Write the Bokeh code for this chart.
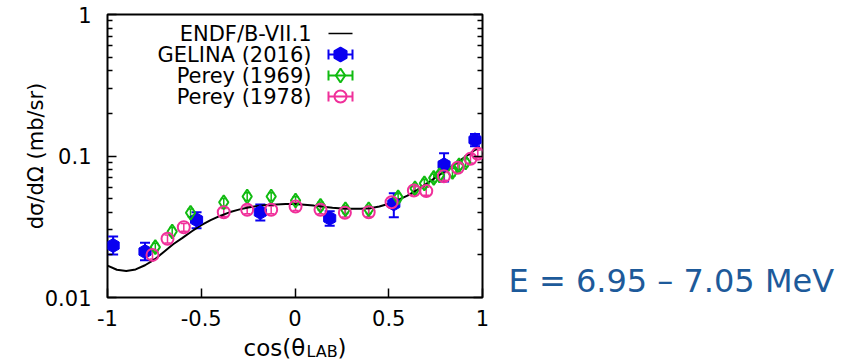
import math
from bokeh.plotting import figure
from bokeh.layouts import row, column
from bokeh.models import (FixedTicker, CustomJSTickFormatter, LogAxis, Whisker,
                          TeeHead, ColumnDataSource, Range1d)
from bokeh.core.properties import value
from bokeh.embed import file_html
from bokeh.resources import INLINE

# ENDF/B-VII.1 evaluated angular distribution
endf_cos = [-1.0, -0.95, -0.9, -0.85, -0.8, -0.75, -0.7, -0.65, -0.6, -0.55, -0.5,
            -0.45, -0.4, -0.35, -0.3, -0.25, -0.2, -0.15, -0.1, -0.05, 0.0, 0.05,
            0.1, 0.15, 0.2, 0.25, 0.3, 0.35, 0.4, 0.45, 0.5, 0.55, 0.6, 0.65, 0.7,
            0.75, 0.8, 0.85, 0.9, 0.95, 0.97]
endf_xs = [0.0168, 0.0157, 0.0154, 0.0158, 0.0169, 0.0185, 0.0210, 0.0238, 0.0264,
           0.0294, 0.0325, 0.0352, 0.0377, 0.0400, 0.0418, 0.0433, 0.0444, 0.0451,
           0.0455, 0.0457, 0.0457, 0.0453, 0.0446, 0.0438, 0.0430, 0.0425, 0.0423,
           0.0424, 0.0428, 0.0440, 0.0460, 0.0490, 0.0525, 0.0575, 0.0635, 0.0705,
           0.0780, 0.0870, 0.0970, 0.1080, 0.1130]

# GELINA (2016)
gelina_cos = [-0.97, -0.80, -0.525, -0.185, 0.185, 0.527, 0.795, 0.96]
gelina_xs = [0.0233, 0.0211, 0.0354, 0.0400, 0.0363, 0.0459, 0.0866, 0.130]
gelina_lo = [0.0201, 0.0183, 0.0309, 0.0350, 0.0322, 0.0369, 0.0660, 0.117]
gelina_hi = [0.0270, 0.0244, 0.0400, 0.0454, 0.0407, 0.0546, 0.1046, 0.143]

# Perey (1969)
perey69_cos = [-0.745, -0.655, -0.557, -0.38, -0.255, -0.127, 0.003, 0.136, 0.269,
               0.393, 0.55, 0.64, 0.69, 0.74, 0.77, 0.84, 0.875, 0.91]
perey69_xs = [0.0227, 0.0293, 0.0397, 0.0471, 0.0517, 0.0517, 0.0485, 0.0445, 0.0420,
              0.0420, 0.0510, 0.0590, 0.0640, 0.0700, 0.0730, 0.0770, 0.0860, 0.0900]
perey69_err = [0.0015, 0.0020, 0.0025, 0.0030, 0.0033, 0.0033, 0.0031, 0.0029, 0.0027,
               0.0027, 0.0033, 0.0038, 0.0041, 0.0045, 0.0047, 0.0050, 0.0055, 0.0058]

# Perey (1978)
perey78_cos = [-0.76, -0.68, -0.593, -0.38, -0.255, -0.127, 0.003, 0.136, 0.266,
               0.393, 0.515, 0.634, 0.70, 0.794, 0.868, 0.936, 0.975]
perey78_xs = [0.0200, 0.0260, 0.0314, 0.0400, 0.0417, 0.0417, 0.0440, 0.0417, 0.0397,
              0.0400, 0.0471, 0.0570, 0.0565, 0.0720, 0.0826, 0.0955, 0.1037]
perey78_err = [0.0013, 0.0017, 0.0020, 0.0026, 0.0027, 0.0027, 0.0028, 0.0027, 0.0026,
               0.0026, 0.0030, 0.0037, 0.0036, 0.0046, 0.0053, 0.0061, 0.0066]

x_ticks = [-1, -0.5, 0, 0.5, 1]
y_ticks = [0.01, 0.1, 1]
y_minor = [m * d for d in (0.01, 0.1) for m in range(2, 10)]

series_names = ["ENDF/B-VII.1", "GELINA (2016)", "Perey (1969)", "Perey (1978)"]
y_title = "dσ/dΩ (mb/sr)"
x_title_parts = ["cos(θ", "LAB", ")"]
energy_text = "E = 6.95 – 7.05 MeV"

BLUE = "#0a00f0"
GREEN = "#10bb10"
PINK = "#f0309a"
TEXT_BLUE = "#1d5a9a"
FONT = "DejaVu Sans"

# page geometry in pixels
PAGE_W, PAGE_H = 866, 360
MAIN_W, MAIN_H = 500, 334
LEFT, TOP = 107, 14
FRAME_R, FRAME_B = 482, 297
FW = FRAME_R - LEFT
FH = FRAME_B - TOP

p = figure(width=MAIN_W, height=MAIN_H, output_backend="svg", toolbar_location=None,
           x_range=Range1d(-1, 1), y_range=Range1d(0.01, 1), y_axis_type="log",
           min_border_left=LEFT, min_border_right=MAIN_W - FRAME_R,
           min_border_top=TOP, min_border_bottom=MAIN_H - FRAME_B)
p.background_fill_color = "white"
p.border_fill_color = "white"
p.grid.visible = False
p.outline_line_color = "black"
p.outline_line_width = 2

fmt = CustomJSTickFormatter(code="return String(tick)")

xa = p.xaxis[0]
xa.ticker = FixedTicker(ticks=x_ticks, minor_ticks=[])
xa.formatter = fmt
ya = p.yaxis[0]
ya.ticker = FixedTicker(ticks=y_ticks, minor_ticks=y_minor)
ya.formatter = fmt
for ax in (xa, ya):
    ax.axis_line_color = None
    ax.major_tick_in = 9
    ax.major_tick_out = 0
    ax.minor_tick_in = 5
    ax.minor_tick_out = 0
    ax.major_tick_line_width = 1.5
    ax.minor_tick_line_width = 1.5
    ax.major_label_text_font = FONT
    ax.major_label_text_font_size = "21px"
    ax.major_label_text_color = "black"
xa.major_label_standoff = 12
ya.major_label_standoff = 16
ya.axis_label = y_title
ya.axis_label_text_font = FONT
ya.axis_label_text_font_size = "21px"
ya.axis_label_text_font_style = "normal"
ya.axis_label_text_color = "black"
ya.axis_label_standoff = -6

# mirrored ticks on the right edge
ra = LogAxis(ticker=FixedTicker(ticks=y_ticks, minor_ticks=y_minor),
             formatter=CustomJSTickFormatter(code="return ''"),
             axis_line_color=None, major_tick_in=9, major_tick_out=0,
             minor_tick_in=5, minor_tick_out=0, major_label_standoff=0,
             major_tick_line_width=1.5, minor_tick_line_width=1.5,
             major_label_text_font_size="0px")
p.add_layout(ra, "right")

# evaluation curve
p.line(endf_cos, endf_xs, line_color="black", line_width=2)

# GELINA
gsrc = ColumnDataSource(dict(x=gelina_cos, y=gelina_xs, lo=gelina_lo, hi=gelina_hi))
p.add_layout(Whisker(source=gsrc, base="x", lower="lo", upper="hi",
                     line_color=BLUE, line_width=2,
                     upper_head=TeeHead(size=10, line_color=BLUE, line_width=2),
                     lower_head=TeeHead(size=10, line_color=BLUE, line_width=2)))
p.scatter("x", "y", source=gsrc, marker="hex", size=14, angle=math.pi / 2,
          fill_color=BLUE, line_color=BLUE)

# Perey (1969)
s69 = ColumnDataSource(dict(x=perey69_cos, y=perey69_xs,
                            lo=[v - e for v, e in zip(perey69_xs, perey69_err)],
                            hi=[v + e for v, e in zip(perey69_xs, perey69_err)]))
p.add_layout(Whisker(source=s69, base="x", lower="lo", upper="hi",
                     line_color=GREEN, line_width=1.5,
                     upper_head=TeeHead(size=6, line_color=GREEN, line_width=1.5),
                     lower_head=TeeHead(size=6, line_color=GREEN, line_width=1.5)))
p.scatter("x", "y", source=s69, marker="diamond", size=14, fill_color=None,
          line_color=GREEN, line_width=2)

# Perey (1978)
s78 = ColumnDataSource(dict(x=perey78_cos, y=perey78_xs,
                            lo=[v - e for v, e in zip(perey78_xs, perey78_err)],
                            hi=[v + e for v, e in zip(perey78_xs, perey78_err)]))
p.add_layout(Whisker(source=s78, base="x", lower="lo", upper="hi",
                     line_color=PINK, line_width=1.5,
                     upper_head=TeeHead(size=6, line_color=PINK, line_width=1.5),
                     lower_head=TeeHead(size=6, line_color=PINK, line_width=1.5)))
p.scatter("x", "y", source=s78, marker="circle", size=12, fill_color=None,
          line_color=PINK, line_width=2)


# key: labels on the left, samples on the right
def frame_to_data(px, py):
    """Pixel offset from the frame's top-left corner to data coordinates."""
    x = -1 + 2 * px / FW
    y = 10 ** (0 - 2 * py / FH)
    return x, y


key_rows = [33 - TOP, 54 - TOP, 75 - TOP, 96 - TOP]
text_right = 311 - LEFT
sample_l, sample_c, sample_r = 328 - LEFT, 340 - LEFT, 352 - LEFT
styles = [
    dict(kind="line"),
    dict(kind="pt", color=BLUE, marker="hex", size=14, fill=BLUE, lw=2),
    dict(kind="pt", color=GREEN, marker="diamond", size=14, fill=None, lw=2),
    dict(kind="pt", color=PINK, marker="circle", size=12, fill=None, lw=2),
]
kx, ky = [], []
for row_px in key_rows:
    tx, ty = frame_to_data(text_right, row_px)
    kx.append(tx)
    ky.append(ty)
p.text(kx, ky, text=series_names, text_align=value("right"),
       text_baseline=value("middle"), text_font=value(FONT),
       text_font_size=value("21px"), text_color="black")

for row_px, st in zip(key_rows, styles):
    xl, yy = frame_to_data(sample_l, row_px)
    xr, _ = frame_to_data(sample_r, row_px)
    xc, _ = frame_to_data(sample_c, row_px)
    if st["kind"] == "line":
        p.line([xl, xr], [yy, yy], line_color="black", line_width=1.5)
    else:
        c = st["color"]
        p.line([xl, xr], [yy, yy], line_color=c, line_width=2)
        _, yt = frame_to_data(sample_c, row_px - 5)
        _, yb = frame_to_data(sample_c, row_px + 5)
        p.segment([xl, xr], [yb, yb], [xl, xr], [yt, yt], line_color=c, line_width=2)
        p.scatter([xc], [yy], marker=st["marker"], size=st["size"],
                  angle=math.pi / 2 if st["marker"] == "hex" else 0,
                  fill_color=st["fill"], line_color=c, line_width=st["lw"])


def text_panel(w, h):
    """Axis-free figure whose data units are pixels, y growing downward."""
    f = figure(width=w, height=h, output_backend="svg", toolbar_location=None,
               x_range=Range1d(0, w), y_range=Range1d(h, 0),
               x_axis_location=None, y_axis_location=None,
               min_border_left=0, min_border_right=0,
               min_border_top=0, min_border_bottom=0)
    f.frame_align = False  # keep the frame on the full canvas inside a row/column
    f.grid.visible = False
    f.outline_line_color = None
    f.background_fill_color = "white"
    f.border_fill_color = "white"
    return f


# energy window, right of the plot (vertically centred on its capitals)
side = text_panel(PAGE_W - MAIN_W, MAIN_H)
side.text([508 - MAIN_W], [280], text=[energy_text], text_align=value("left"),
          text_baseline=value("middle"), text_font=value(FONT),
          text_font_size=value("32px"), text_color=TEXT_BLUE)

# x-axis title with subscript
foot = text_panel(PAGE_W, PAGE_H - MAIN_H)
foot.text([243, 337], [347.5 - MAIN_H, 347.5 - MAIN_H],
          text=[x_title_parts[0], x_title_parts[2]],
          text_align=value("left"), text_baseline=value("middle"),
          text_font=value(FONT), text_font_size=value("23px"), text_color="black")
foot.text([306], [351 - MAIN_H], text=[x_title_parts[1]], text_align=value("left"),
          text_baseline=value("middle"), text_font=value(FONT),
          text_font_size=value("16px"), text_color="black")

layout = column(row(p, side, spacing=0), foot, spacing=0)
open("out.html", "w").write(file_html(layout, INLINE))
